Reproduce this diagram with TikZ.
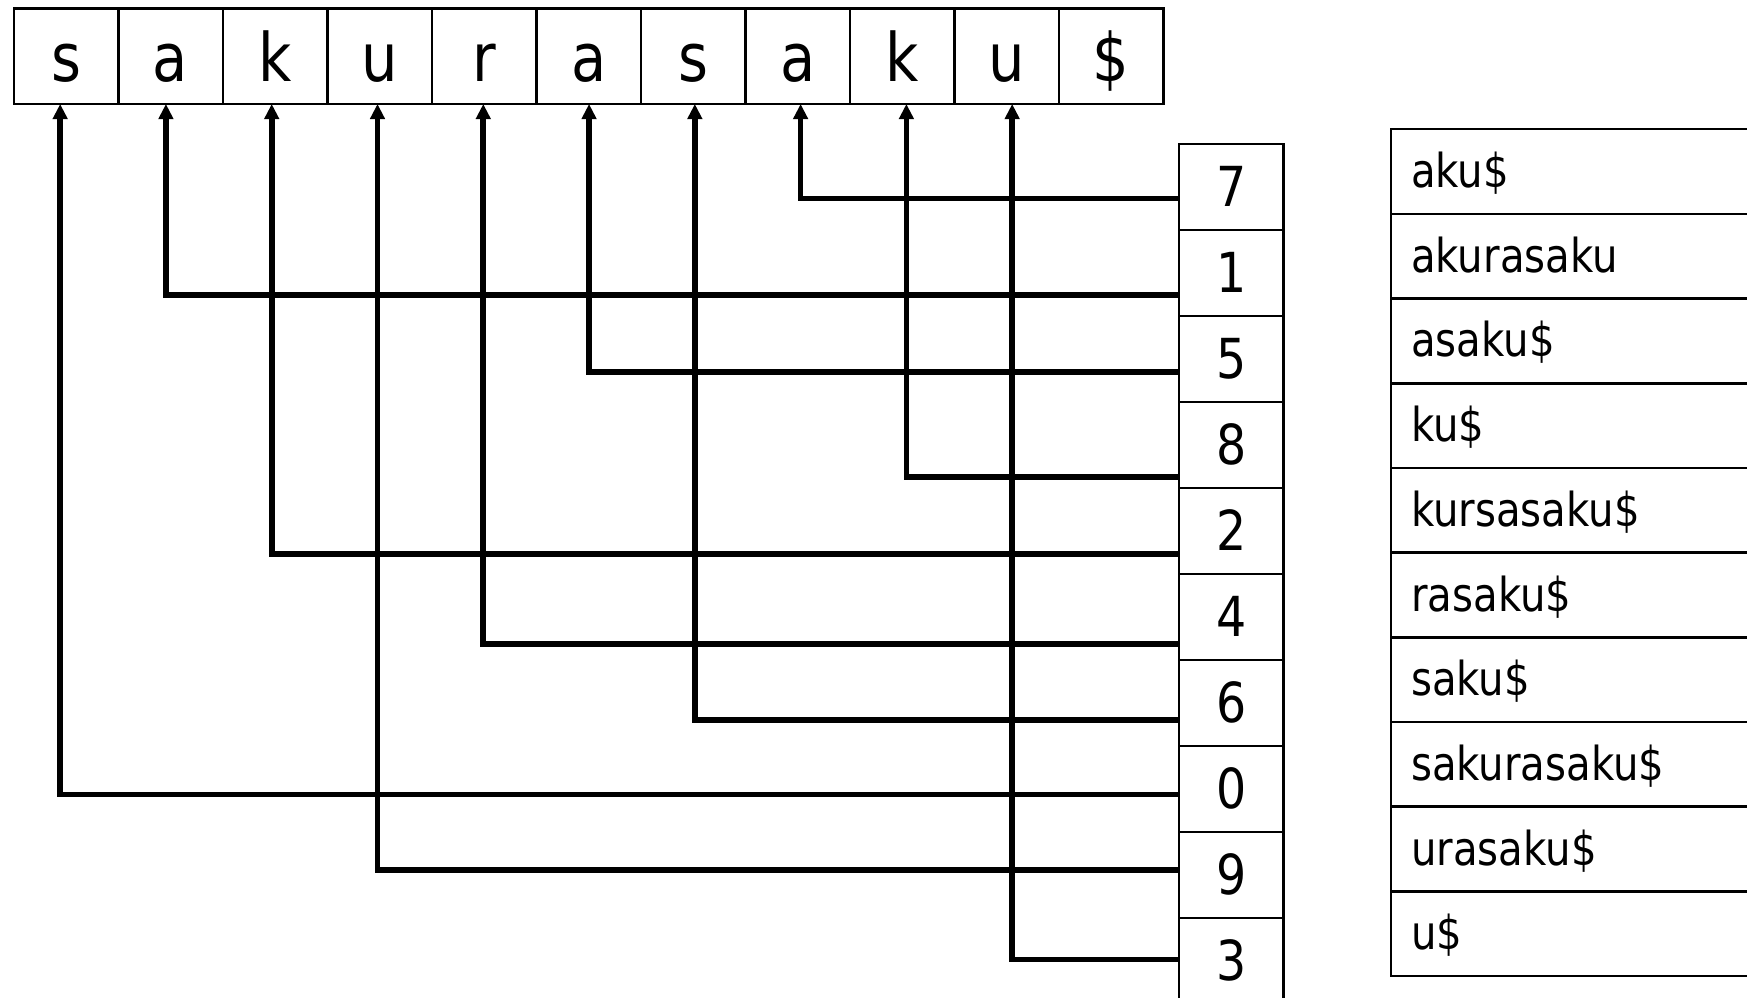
\documentclass[tikz,border=0pt]{standalone}
\usepackage{fontspec}
\setmainfont{DejaVu Sans}[FakeStretch=0.86]
\usetikzlibrary{arrows.meta}

\begin{document}
\begin{tikzpicture}[x=0.5pt,y=-0.5pt,
  charcell/.style={draw,line width=1.1pt,minimum width=46.9pt,minimum height=42.9pt,inner sep=0pt,
    font=\fontsize{30pt}{31pt}\selectfont,text height=23pt,text depth=0pt},
  idxcell/.style={draw,line width=1.1pt,minimum width=47pt,minimum height=38.6pt,inner sep=0pt,
    font=\fontsize{24.75pt}{26pt}\selectfont,text height=18pt,text depth=0pt},
  sufcell/.style={draw,line width=1.1pt,anchor=west,minimum height=38pt,inner ysep=0pt,inner xsep=9pt,
    text width=200pt,align=left,font=\fontsize{21pt}{22pt}\selectfont,text height=14.4pt,text depth=0pt},
  conn/.style={line width=2.5pt,-{Triangle[length=6.8pt,width=6.4pt]}}
]
\useasboundingbox (0,0) rectangle (1568,895);
\fill[white] (0,0) rectangle (1568,895);
\clip (0,0) rectangle (1568,895);

% the text, one character per cell
\foreach \ch [count=\i from 0] in {s,a,k,u,r,a,s,a,k,u,\$} {
  \node[charcell] (c\i) at ({12.4+93.8*(\i+0.5)},50.4) {\ch};
}
% arrow tips under each character position
\foreach \i in {0,...,9} {
  \coordinate (p\i) at ({54+94.94*\i},93.3);
}

% suffix array
\foreach \v [count=\k from 0] in {7,1,5,8,2,4,6,0,9,3} {
  \node[idxcell] (r\k) at (1105,{129+77.2*(\k+0.5)}) {\v};
}

% sorted suffixes
\foreach \s [count=\k from 0] in {aku\$,akurasaku,asaku\$,ku\$,kursasaku\$,rasaku\$,saku\$,sakurasaku\$,urasaku\$,u\$} {
  \node[sufcell] (f\k) at (1247.5,{116+76*(\k+0.5)}) {\s};
}

% pointers from suffix array entries to text positions
\foreach \y/\t [count=\k from 0] in {178/7,265/1,334/5,428/8,497/2,578/4,646/6,713/0,781/3,861/9} {
  \coordinate (s\k) at (r\k.west |- 0,\y);
  \draw[conn] (s\k) -| (p\t);
}
\end{tikzpicture}
\end{document}
